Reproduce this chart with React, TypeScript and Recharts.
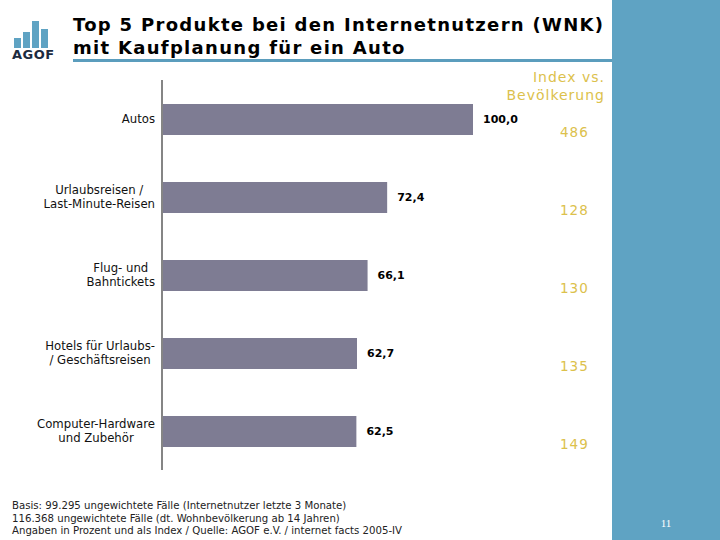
import { BarChart, Bar, XAxis, YAxis, LabelList } from 'recharts';

// Top 5 Produkte bei Internetnutzern mit Kaufplanung für ein Auto
const categories = [
  'Autos',
  'Urlaubsreisen /\nLast-Minute-Reisen',
  'Flug- und\nBahntickets',
  'Hotels für Urlaubs-\n/ Geschäftsreisen',
  'Computer-Hardware\nund Zubehör',
];
const shares = [100.0, 72.4, 66.1, 62.7, 62.5];
const indexValues = [486, 128, 130, 135, 149];

const data = categories.map((category, i) => ({
  category,
  share: shares[i],
  index: indexValues[i],
}));

const BAR = '#7e7c93';
const BLUE = '#5fa3c3';
const GOLD = '#dcc14c';

const fmt = (v: any) => Number(v).toFixed(1).replace('.', ',');

function CategoryTick(props: any) {
  const { x, y, payload } = props;
  return (
    <foreignObject x={x - 170} y={y - 20} width={170} height={40}>
      <div
        style={{
          display: 'flex',
          justifyContent: 'flex-end',
          alignItems: 'center',
          height: '100%',
        }}
      >
        <span
          style={{
            textAlign: 'center',
            whiteSpace: 'pre',
            lineHeight: '14px',
            fontSize: 13,
            fontFamily: '"DejaVu Sans Condensed", "DejaVu Sans", sans-serif',
            color: '#111',
          }}
        >
          {payload.value}
        </span>
      </div>
    </foreignObject>
  );
}

function IndexTick(props: any) {
  const { x, y, payload } = props;
  return (
    <text
      x={x}
      y={y}
      dy={13}
      dominantBaseline="central"
      textAnchor="start"
      fill={GOLD}
      fontSize={13.5}
      letterSpacing={1}
      fontFamily='"DejaVu Sans", sans-serif'
    >
      {payload.value}
    </text>
  );
}

export default function App() {
  return (
    <div
      style={{
        position: 'absolute',
        left: 0,
        top: 0,
        width: 720,
        height: 540,
        overflow: 'hidden',
        background: '#fff',
        fontFamily: '"DejaVu Sans", sans-serif',
      }}
    >
      {/* right side panel */}
      <div style={{ position: 'absolute', left: 612, top: 0, width: 108, height: 540, background: BLUE }} />

      {/* logo */}
      <div style={{ position: 'absolute', left: 14, top: 38, width: 7, height: 10, background: BLUE }} />
      <div style={{ position: 'absolute', left: 23, top: 32, width: 7, height: 16, background: BLUE }} />
      <div style={{ position: 'absolute', left: 32, top: 21, width: 7, height: 27, background: BLUE }} />
      <div style={{ position: 'absolute', left: 41, top: 29, width: 7, height: 19, background: BLUE }} />
      <div
        style={{
          position: 'absolute',
          left: 12,
          top: 47,
          fontSize: 13,
          fontWeight: 'bold',
          color: '#1c2b3f',
          letterSpacing: 0.5,
        }}
      >
        AGOF
      </div>

      {/* title */}
      <div
        style={{
          position: 'absolute',
          left: 73,
          top: 13,
          fontSize: 18,
          fontWeight: 'bold',
          lineHeight: '23px',
          letterSpacing: 1.3,
          color: '#000',
          whiteSpace: 'nowrap',
        }}
      >
        Top 5 Produkte bei den Internetnutzern (WNK)
        <br />
        mit Kaufplanung für ein Auto
      </div>
      <div style={{ position: 'absolute', left: 73, top: 59, width: 539, height: 3, background: '#5b9dbd' }} />

      {/* index header */}
      <div
        style={{
          position: 'absolute',
          right: 115,
          top: 68,
          fontSize: 14,
          lineHeight: '18px',
          letterSpacing: 1,
          color: GOLD,
          textAlign: 'right',
        }}
      >
        Index vs.
        <br />
        Bevölkerung
      </div>

      <div style={{ position: 'absolute', left: 0, top: 0 }}>
        <BarChart
          width={720}
          height={540}
          data={data}
          layout="vertical"
          margin={{ top: 80, right: 107, bottom: 70, left: 0 }}
        >
          <XAxis type="number" domain={[0, 100]} hide />
          <YAxis
            yAxisId="cat"
            type="category"
            dataKey="category"
            width={162}
            axisLine={{ stroke: '#858585', strokeWidth: 2 }}
            tickLine={false}
            tickSize={0}
            tickMargin={7}
            tick={<CategoryTick />}
          />
          <YAxis
            yAxisId="idx"
            orientation="right"
            type="category"
            dataKey="index"
            width={140}
            axisLine={false}
            tickLine={false}
            tickSize={0}
            tickMargin={87}
            tick={<IndexTick />}
          />
          <Bar yAxisId="cat" dataKey="share" fill={BAR} barSize={31} isAnimationActive={false}>
            <LabelList
              dataKey="share"
              position="right"
              offset={10}
              formatter={fmt}
              fill="#000"
              fontSize={11}
              fontWeight="bold"
            />
          </Bar>
          <Bar yAxisId="idx" dataKey="share" fill="none" fillOpacity={0} barSize={31} isAnimationActive={false} />
        </BarChart>
      </div>

      {/* footnote */}
      <div
        style={{
          position: 'absolute',
          left: 12,
          top: 500,
          fontSize: 11.3,
          lineHeight: '12.5px',
          color: '#222',
          fontFamily: '"DejaVu Sans Condensed", "DejaVu Sans", sans-serif',
          whiteSpace: 'nowrap',
        }}
      >
        Basis: 99.295 ungewichtete Fälle (Internetnutzer letzte 3 Monate)
        <br />
        116.368 ungewichtete Fälle (dt. Wohnbevölkerung ab 14 Jahren)
        <br />
        Angaben in Prozent und als Index / Quelle: AGOF e.V. / internet facts 2005-IV
      </div>

      {/* page number */}
      <div
        style={{
          position: 'absolute',
          left: 612,
          width: 108,
          top: 517,
          textAlign: 'center',
          fontSize: 11,
          color: '#fff',
          fontFamily: '"Liberation Serif", serif',
        }}
      >
        11
      </div>
    </div>
  );
}
